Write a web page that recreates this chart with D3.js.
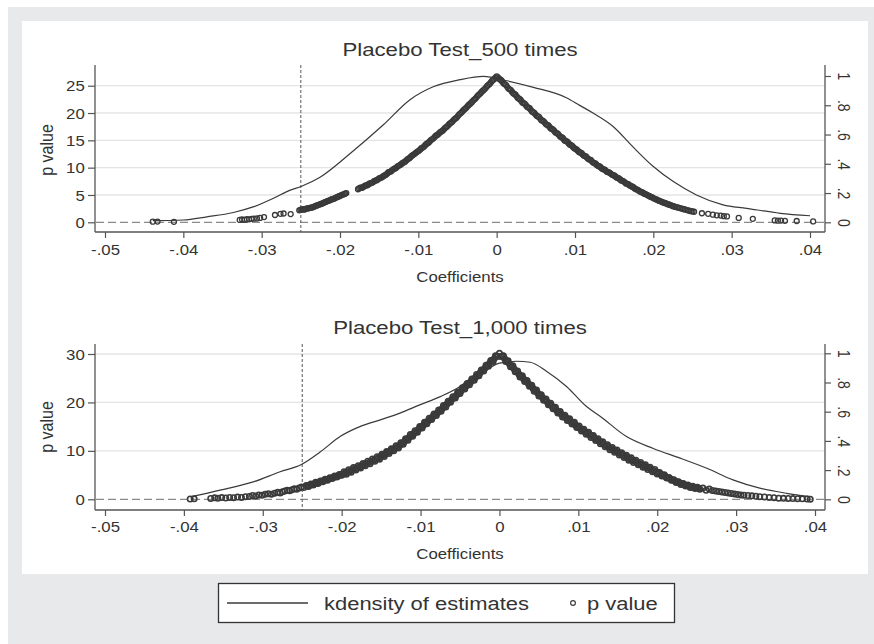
<!DOCTYPE html>
<html><head><meta charset="utf-8">
<script src="https://cdn.jsdelivr.net/npm/d3@7"></script>
<style>body{margin:0;background:#fff}svg{display:block}text{font-family:"Liberation Sans",Arial,sans-serif;fill:#333}</style>
</head><body><svg id="c" width="874" height="644"></svg>
<script>
// ---------------- data ----------------
const titles = ["Placebo Test_500 times", "Placebo Test_1,000 times"];
const xTicks = [-0.05,-0.04,-0.03,-0.02,-0.01,0,0.01,0.02,0.03,0.04];
const xTickLabels = ["-.05","-.04","-.03","-.02","-.01","0",".01",".02",".03",".04"];
const yTicksTop = [0,5,10,15,20,25];
const yTicksBottom = [0,10,20,30];
const pTicks = [0,0.2,0.4,0.6,0.8,1];
const pTickLabels = ["0",".2",".4",".6",".8","1"];
const trueEstimate = -0.025;
const legendLabels = ["kdensity of estimates", "p value"];

// kernel density of the estimates (coefficient, density)
const kdensTop = [[-0.0439,0.3],[-0.040,0.42],[-0.037,1.0],[-0.0336,1.8],[-0.031,2.86],[-0.0285,4.4],[-0.0265,5.8],[-0.0249,6.6],[-0.0226,8.2],[-0.0187,12.6],[-0.0145,17.8],[-0.0111,22.4],[-0.0081,24.8],[-0.0047,26.1],[-0.0017,26.7],[0.0013,25.9],[0.0047,24.7],[0.0089,22.8],[0.0106,21.4],[0.0123,20.0],[0.0149,17.5],[0.0174,13.8],[0.020,10.2],[0.0226,7.4],[0.0255,5.0],[0.0289,3.2],[0.0319,2.56],[0.0362,1.65],[0.040,1.2]];
const kdensBottom = [[-0.0392,0.5],[-0.0354,1.9],[-0.0312,3.6],[-0.0278,5.7],[-0.0251,7.2],[-0.0227,9.8],[-0.0202,12.95],[-0.0177,15.0],[-0.0151,16.4],[-0.0126,17.8],[-0.0101,19.5],[-0.0075,21.2],[-0.005,23.3],[-0.0033,25.4],[-0.0016,26.8],[0,28.1],[0.0022,28.5],[0.0039,28.3],[0.006,26.4],[0.0085,23.3],[0.011,19.2],[0.0128,17.1],[0.0161,12.95],[0.0195,10.5],[0.0229,8.5],[0.0263,6.4],[0.0296,4.0],[0.033,2.3],[0.0364,1.24],[0.0394,0.54]];

// placebo estimates and their p values (coefficient, p) - 500 times
const pvalTop = [[-0.0439,0.004],[-0.0433,0.005],[-0.0412,0.003],
[-0.0328,0.016],[-0.0325,0.019],[-0.0322,0.017],[-0.0319,0.021],[-0.0316,0.02],[-0.0313,0.024],[-0.0310,0.025],[-0.0306,0.026],[-0.0302,0.03],[-0.0297,0.036],
[-0.0283,0.05],[-0.0276,0.058],[-0.0272,0.06],[-0.0263,0.056],
[-0.0252,0.082],[-0.0249,0.088],[-0.0246,0.086],[-0.0243,0.094],[-0.0240,0.096],[-0.0237,0.1],[-0.0234,0.104],[-0.0231,0.112],[-0.0228,0.118],[-0.0225,0.124],[-0.0222,0.13],[-0.0219,0.138],[-0.0216,0.145],[-0.0213,0.15],[-0.0210,0.158],[-0.0207,0.163],[-0.0204,0.172],[-0.0201,0.178],[-0.0198,0.186],[-0.0195,0.192],[-0.0192,0.2],
[-0.0177,0.226],[-0.0174,0.236],[-0.0171,0.238],[-0.0168,0.25],[-0.0165,0.254],[-0.0162,0.266],[-0.0159,0.27],[-0.0156,0.283],[-0.0153,0.288],[-0.0150,0.3],[-0.0147,0.306],[-0.0144,0.318],[-0.0141,0.326],[-0.0138,0.342],[-0.0135,0.348],[-0.0132,0.362],[-0.0129,0.37],[-0.0126,0.384],[-0.0123,0.392],[-0.0120,0.406],[-0.0117,0.414],[-0.0114,0.43],[-0.0111,0.44],[-0.0108,0.456],[-0.0105,0.466],[-0.0102,0.48],[-0.0099,0.49],[-0.0096,0.506],[-0.0093,0.516],[-0.0090,0.534],[-0.0087,0.544],[-0.0084,0.562],[-0.0081,0.572],[-0.0078,0.59],[-0.0075,0.6],[-0.0072,0.616],[-0.0069,0.626],[-0.0066,0.644],[-0.0063,0.656],[-0.0060,0.674],[-0.0057,0.686],[-0.0054,0.704],[-0.0051,0.716],[-0.0048,0.736],[-0.0045,0.75],[-0.0042,0.768],[-0.0039,0.782],[-0.0036,0.8],[-0.0033,0.814],[-0.0030,0.832],[-0.0027,0.846],[-0.0024,0.866],[-0.0021,0.88],[-0.0018,0.898],[-0.0015,0.912],[-0.0012,0.932],[-0.0009,0.946],[-0.0006,0.966],[-0.0003,0.98],[0.0000,0.998],
[0.0003,0.982],[0.0006,0.97],[0.0009,0.948],[0.0012,0.938],[0.0015,0.914],[0.0018,0.904],[0.0021,0.882],[0.0024,0.872],[0.0027,0.85],[0.0030,0.84],[0.0033,0.818],[0.0036,0.81],[0.0039,0.788],[0.0042,0.78],[0.0045,0.758],[0.0048,0.748],[0.0051,0.728],[0.0054,0.72],[0.0057,0.698],[0.0060,0.69],[0.0063,0.67],[0.0066,0.662],[0.0069,0.642],[0.0072,0.634],[0.0075,0.614],[0.0078,0.606],[0.0081,0.586],[0.0084,0.578],[0.0087,0.558],[0.0090,0.552],[0.0093,0.532],[0.0096,0.524],[0.0099,0.506],[0.0102,0.498],[0.0105,0.48],[0.0108,0.474],[0.0111,0.456],[0.0114,0.45],[0.0117,0.432],[0.0120,0.426],[0.0123,0.408],[0.0126,0.402],[0.0129,0.386],[0.0132,0.38],[0.0135,0.364],[0.0138,0.36],[0.0141,0.344],[0.0144,0.34],[0.0147,0.326],[0.0150,0.32],[0.0153,0.306],[0.0156,0.3],[0.0159,0.286],[0.0162,0.28],[0.0165,0.266],[0.0168,0.26],[0.0171,0.248],[0.0174,0.242],[0.0177,0.228],[0.0180,0.222],[0.0183,0.21],[0.0186,0.204],[0.0189,0.194],[0.0192,0.188],[0.0195,0.178],[0.0198,0.172],[0.0201,0.162],[0.0204,0.156],[0.0207,0.148],[0.0210,0.142],[0.0213,0.134],[0.0216,0.13],[0.0219,0.122],[0.0222,0.118],[0.0225,0.11],[0.0228,0.106],[0.0232,0.1],[0.0236,0.094],[0.0240,0.088],[0.0244,0.082],[0.0248,0.076],[0.0252,0.072],[0.0262,0.062],[0.0270,0.058],[0.0276,0.052],[0.0281,0.048],[0.0286,0.046],[0.0290,0.042],[0.0294,0.04],[0.0309,0.03],[0.0327,0.024],[0.0355,0.013],[0.0359,0.011],[0.0363,0.012],[0.0368,0.01],[0.0383,0.009],[0.0404,0.006]];
const pvalTopMore = [[-0.02505,0.085],[-0.02475,0.09],[-0.02445,0.09],[-0.02415,0.095],[-0.02385,0.098],[-0.02355,0.102],[-0.02325,0.108],[-0.02295,0.115],[-0.02265,0.121],[-0.02235,0.127],[-0.02205,0.134],[-0.02175,0.141],[-0.02145,0.148],[-0.02115,0.154],[-0.02085,0.16],[-0.02055,0.167],[-0.02025,0.175],[-0.01995,0.182],[-0.01965,0.189],[-0.01935,0.196],
[-0.01755,0.231],[-0.01725,0.237],[-0.01695,0.244],[-0.01665,0.252],[-0.01635,0.26],[-0.01605,0.268],[-0.01575,0.276],[-0.01545,0.285],[-0.01515,0.294],[-0.01485,0.303],[-0.01455,0.312],[-0.01425,0.322],[-0.01395,0.334],[-0.01365,0.345],[-0.01335,0.355],[-0.01305,0.366],[-0.01275,0.377],[-0.01245,0.388],[-0.01215,0.399],[-0.01185,0.41],[-0.01155,0.422],[-0.01125,0.435],[-0.01095,0.448],[-0.01065,0.461],[-0.01035,0.473],[-0.01005,0.485],[-0.00975,0.498],[-0.00945,0.511],[-0.00915,0.525],[-0.00885,0.539],[-0.00855,0.553],[-0.00825,0.567],[-0.00795,0.581],[-0.00765,0.595],[-0.00735,0.608],[-0.00705,0.621],[-0.00675,0.635],[-0.00645,0.65],[-0.00615,0.665],[-0.00585,0.68],[-0.00555,0.695],[-0.00525,0.71],[-0.00495,0.726],[-0.00465,0.743],[-0.00435,0.759],[-0.00405,0.775],[-0.00375,0.791],[-0.00345,0.807],[-0.00315,0.823],[-0.00285,0.839],[-0.00255,0.856],[-0.00225,0.873],[-0.00195,0.889],[-0.00165,0.905],[-0.00135,0.922],[-0.00105,0.939],[-0.00075,0.956],[-0.00045,0.973],[-0.00015,0.989],
[0.00015,0.99],[0.00045,0.976],[0.00075,0.959],[0.00105,0.943],[0.00135,0.926],[0.00165,0.909],[0.00195,0.893],[0.00225,0.877],[0.00255,0.861],[0.00285,0.845],[0.00315,0.829],[0.00345,0.814],[0.00375,0.799],[0.00405,0.784],[0.00435,0.769],[0.00465,0.753],[0.00495,0.738],[0.00525,0.724],[0.00555,0.709],[0.00585,0.694],[0.00615,0.68],[0.00645,0.666],[0.00675,0.652],[0.00705,0.638],[0.00735,0.624],[0.00765,0.61],[0.00795,0.596],[0.00825,0.582],[0.00855,0.568],[0.00885,0.555],[0.00915,0.542],[0.00945,0.528],[0.00975,0.515],[0.01005,0.502],[0.01035,0.489],[0.01065,0.477],[0.01095,0.465],[0.01125,0.453],[0.01155,0.441],[0.01185,0.429],[0.01215,0.417],[0.01245,0.405],[0.01275,0.394],[0.01305,0.383],[0.01335,0.372],[0.01365,0.362],[0.01395,0.352],[0.01425,0.342],[0.01455,0.333],[0.01485,0.323],[0.01515,0.313],[0.01545,0.303],[0.01575,0.293],[0.01605,0.283],[0.01635,0.273],[0.01665,0.263],[0.01695,0.254],[0.01725,0.245],[0.01755,0.235],[0.01785,0.225],[0.01815,0.216],[0.01845,0.207],[0.01875,0.199],[0.01905,0.191],[0.01935,0.183],[0.01965,0.175],[0.01995,0.167],[0.02025,0.159],[0.02055,0.152],[0.02085,0.145],[0.02115,0.138],[0.02145,0.132],[0.02175,0.126],[0.02205,0.12],[0.02235,0.114],[0.02265,0.108],[0.0230,0.103],[0.0234,0.097],[0.0238,0.091],[0.0242,0.085],[0.0246,0.079],[0.0250,0.074]];

// placebo estimates and their p values (coefficient, p) - 1,000 times
const pvalBottom = [[-0.0392,0.002],[-0.0387,0.003],[-0.0366,0.006],[-0.0361,0.01],[-0.0357,0.007],[-0.0352,0.012],[-0.0347,0.009],[-0.0342,0.013],[-0.0337,0.011],[-0.0332,0.015],[-0.0327,0.013],[-0.0322,0.018],[-0.0317,0.02],[-0.0313,0.026],[-0.0309,0.023],[-0.0305,0.03],[-0.0301,0.027],[-0.0297,0.034],[-0.0293,0.038],[-0.0289,0.035],[-0.0285,0.042],[-0.0281,0.048],[-0.0278,0.044],[-0.0275,0.052],[-0.0272,0.056],[-0.0269,0.062],[-0.0266,0.058],[-0.0263,0.066],[-0.0260,0.072],[-0.0257,0.068],[-0.0254,0.078],[-0.0251,0.084],[-0.0248,0.08],
[-0.0245,0.095],[-0.0242,0.088],[-0.0239,0.105],[-0.0236,0.098],[-0.0233,0.116],[-0.0230,0.109],[-0.0227,0.126],[-0.0224,0.12],[-0.0221,0.137],[-0.0218,0.131],[-0.0215,0.148],[-0.0212,0.142],[-0.0209,0.159],[-0.0206,0.153],[-0.0203,0.17],[-0.0200,0.165],[-0.0197,0.189],[-0.0194,0.172],[-0.0191,0.203],[-0.0188,0.186],[-0.0185,0.217],[-0.0182,0.2],[-0.0179,0.23],[-0.0176,0.214],[-0.0173,0.245],[-0.0170,0.229],[-0.0167,0.261],[-0.0164,0.244],[-0.0161,0.276],[-0.0158,0.26],[-0.0155,0.292],[-0.0152,0.275],[-0.0149,0.308],[-0.0146,0.294],[-0.0143,0.327],[-0.0140,0.313],[-0.0137,0.346],[-0.0134,0.332],[-0.0131,0.366],[-0.0128,0.351],[-0.0125,0.387],[-0.0122,0.377],[-0.0119,0.415],[-0.0116,0.405],[-0.0113,0.443],[-0.0110,0.432],[-0.0107,0.47],[-0.0104,0.46],[-0.0101,0.498],[-0.0098,0.488],[-0.0095,0.527],[-0.0092,0.517],[-0.0089,0.555],[-0.0086,0.546],[-0.0083,0.584],[-0.0080,0.574],[-0.0077,0.612],[-0.0074,0.603],[-0.0071,0.642],[-0.0068,0.633],[-0.0065,0.672],[-0.0062,0.664],[-0.0059,0.703],[-0.0056,0.694],[-0.0053,0.733],[-0.0050,0.725],[-0.0047,0.764],[-0.0044,0.755],[-0.0041,0.794],[-0.0038,0.785],[-0.0035,0.824],[-0.0032,0.815],[-0.0029,0.855],[-0.0026,0.846],[-0.0023,0.886],[-0.0020,0.878],[-0.0017,0.918],[-0.0014,0.911],[-0.0011,0.951],[-0.0008,0.944],[-0.0005,0.984],[-0.0002,0.98],[0.0000,1.0],
[0.0002,0.978],[0.0005,0.984],[0.0008,0.943],[0.0011,0.949],[0.0014,0.908],[0.0017,0.914],[0.0020,0.873],[0.0023,0.879],[0.0026,0.838],[0.0029,0.846],[0.0032,0.806],[0.0035,0.814],[0.0038,0.774],[0.0041,0.782],[0.0044,0.74],[0.0047,0.748],[0.0050,0.708],[0.0053,0.716],[0.0056,0.678],[0.0059,0.687],[0.0062,0.648],[0.0065,0.658],[0.0068,0.62],[0.0071,0.63],[0.0074,0.591],[0.0077,0.601],[0.0080,0.564],[0.0083,0.576],[0.0086,0.539],[0.0089,0.551],[0.0092,0.515],[0.0095,0.527],[0.0098,0.491],[0.0101,0.502],[0.0104,0.467],[0.0107,0.48],[0.0110,0.446],[0.0113,0.459],[0.0116,0.424],[0.0119,0.437],[0.0122,0.402],[0.0125,0.415],[0.0128,0.38],[0.0131,0.394],[0.0134,0.36],[0.0137,0.374],[0.0140,0.34],[0.0143,0.355],[0.0146,0.322],[0.0149,0.338],[0.0152,0.304],[0.0155,0.319],[0.0158,0.286],[0.0161,0.301],[0.0164,0.268],[0.0167,0.284],[0.0170,0.252],[0.0173,0.268],[0.0176,0.236],[0.0179,0.252],[0.0182,0.22],[0.0185,0.236],[0.0188,0.204],[0.0191,0.22],[0.0194,0.188],[0.0197,0.204],[0.0200,0.174],[0.0203,0.184],[0.0206,0.16],[0.0209,0.168],[0.0212,0.146],[0.0215,0.15],[0.0218,0.13],[0.0221,0.134],[0.0224,0.115],[0.0227,0.12],[0.0230,0.102],[0.0233,0.108],[0.0236,0.091],[0.0239,0.098],[0.0242,0.081],[0.0245,0.089],[0.0248,0.074],[0.0251,0.083],[0.0254,0.068],[0.0258,0.077],[0.0262,0.062],[0.0266,0.07],[0.0270,0.061],[0.0274,0.057],[0.0278,0.054],[0.0282,0.05],[0.0286,0.047],[0.0290,0.043],[0.0294,0.04],[0.0298,0.037],[0.0302,0.033],[0.0306,0.03],[0.0310,0.028],[0.0315,0.026],[0.0320,0.024],[0.0325,0.021],[0.0330,0.018],[0.0336,0.016],[0.0342,0.013],[0.0348,0.011],[0.0354,0.008],[0.0360,0.007],[0.0366,0.006],[0.0372,0.005],[0.0378,0.004],[0.0384,0.003],[0.0390,0.002],[0.0394,0.001]];
const pvalBottomMore = [[-0.02435,0.091],[-0.02405,0.096],[-0.02375,0.101],[-0.02345,0.107],[-0.02315,0.112],[-0.02285,0.117],[-0.02255,0.123],[-0.02225,0.128],[-0.02195,0.134],[-0.02165,0.139],[-0.02135,0.145],[-0.02105,0.15],[-0.02075,0.156],[-0.02045,0.161],[-0.02015,0.167],[-0.01985,0.174],[-0.01955,0.18],[-0.01925,0.187],[-0.01895,0.194],[-0.01865,0.201],[-0.01835,0.208],[-0.01805,0.215],[-0.01775,0.222],[-0.01745,0.229],[-0.01715,0.237],[-0.01685,0.245],[-0.01655,0.252],[-0.01625,0.26],[-0.01595,0.268],[-0.01565,0.276],[-0.01535,0.283],[-0.01505,0.291],[-0.01475,0.301],[-0.01445,0.31],[-0.01415,0.32],[-0.01385,0.329],[-0.01355,0.339],[-0.01325,0.349],[-0.01295,0.358],[-0.01265,0.369],[-0.01235,0.382],[-0.01205,0.396],[-0.01175,0.41],[-0.01145,0.424],[-0.01115,0.437],[-0.01085,0.451],[-0.01055,0.465],[-0.01025,0.479],[-0.00995,0.493],[-0.00965,0.507],[-0.00935,0.522],[-0.00905,0.536],[-0.00875,0.55],[-0.00845,0.565],[-0.00815,0.579],[-0.00785,0.593],[-0.00755,0.607],[-0.00725,0.622],[-0.00695,0.637],[-0.00665,0.652],[-0.00635,0.668],[-0.00605,0.683],[-0.00575,0.698],[-0.00545,0.713],[-0.00515,0.729],[-0.00485,0.744],[-0.00455,0.759],[-0.00425,0.774],[-0.00395,0.789],[-0.00365,0.804],[-0.00335,0.819],[-0.00305,0.835],[-0.00275,0.85],[-0.00245,0.866],[-0.00215,0.882],[-0.00185,0.898],[-0.00155,0.914],[-0.00125,0.931],[-0.00095,0.947],[-0.00065,0.964],[-0.00035,0.98],
[0.00035,0.981],[0.00065,0.964],[0.00095,0.946],[0.00125,0.929],[0.00155,0.911],[0.00185,0.894],[0.00215,0.876],[0.00245,0.859],[0.00275,0.842],[0.00305,0.826],[0.00335,0.81],[0.00365,0.794],[0.00395,0.778],[0.00425,0.761],[0.00455,0.744],[0.00485,0.728],[0.00515,0.712],[0.00545,0.697],[0.00575,0.683],[0.00605,0.668],[0.00635,0.653],[0.00665,0.639],[0.00695,0.625],[0.00725,0.61],[0.00755,0.596],[0.00785,0.583],[0.00815,0.57],[0.00845,0.558],[0.00875,0.545],[0.00905,0.533],[0.00935,0.521],[0.00965,0.509],[0.00995,0.497],[0.01025,0.485],[0.01055,0.474],[0.01085,0.463],[0.01115,0.453],[0.01145,0.442],[0.01175,0.431],[0.01205,0.42],[0.01235,0.409],[0.01265,0.398],[0.01295,0.387],[0.01325,0.377],[0.01355,0.367],[0.01385,0.357],[0.01415,0.348],[0.01445,0.339],[0.01475,0.33],[0.01505,0.321],[0.01535,0.312],[0.01565,0.303],[0.01595,0.294],[0.01625,0.285],[0.01655,0.276],[0.01685,0.268],[0.01715,0.26],[0.01745,0.252],[0.01775,0.244],[0.01805,0.236],[0.01835,0.228],[0.01865,0.22],[0.01895,0.212],[0.01925,0.204],[0.01955,0.196],[0.01985,0.188],[0.02015,0.18],[0.02045,0.172],[0.02075,0.164],[0.02105,0.156],[0.02135,0.148],[0.02165,0.14],[0.02195,0.132],[0.02225,0.125],[0.02255,0.118],[0.02285,0.111],[0.02315,0.105],[0.02345,0.1],[0.02375,0.095],[0.02405,0.09],[0.02435,0.085],[0.02465,0.082],[0.02495,0.079],[0.02525,0.076]];

// ---------------- drawing ----------------
const SX = 1.2; // horizontal stretch of the reference text
const svg = d3.select("#c");
svg.append("rect").attr("x",8).attr("y",7).attr("width",866).attr("height",637).attr("fill","#e8e9eb");
svg.append("rect").attr("x",22).attr("y",21).attr("width",846).attr("height",553).attr("fill","#fff");

function label(g, x, y, s, size, anchor, rot){
  return g.append("text")
    .attr("transform", `translate(${x},${y}) scale(${SX},1)` + (rot ? ` rotate(${rot})` : ""))
    .attr("text-anchor", anchor).attr("font-size", size).text(s);
}

const panels = [
  {title:titles[0], kd:kdensTop, pv:pvalTop.concat(pvalTopMore), yTicks:yTicksTop, yMax:25, r:2.5, sw:1.3,
   L:95, R:825, T:65, B:232, x0:105, x1:810, y0:222.3, yTop:85.7, p1:76,
   titleY:56, tickY:255, xTitleY:281.7, yTitleY:150},
  {title:titles[1], kd:kdensBottom, pv:pvalBottom.concat(pvalBottomMore), yTicks:yTicksBottom, yMax:30, r:2.7, sw:1.6,
   L:95, R:825, T:344, B:510, x0:105, x1:815, y0:499.3, yTop:354, p1:353.3,
   titleY:333.5, tickY:532, xTitleY:559, yTitleY:427}
];

panels.forEach(P => {
  const g = svg.append("g");
  const x = d3.scaleLinear().domain([-0.05,0.04]).range([P.x0,P.x1]);
  const y = d3.scaleLinear().domain([0,P.yMax]).range([P.y0,P.yTop]);
  const yp = d3.scaleLinear().domain([0,1]).range([P.y0,P.p1]);

  // gridlines
  g.selectAll(".grid").data(P.yTicks.filter(v=>v>0)).join("line")
    .attr("x1",P.L).attr("x2",P.R).attr("y1",d=>y(d)).attr("y2",d=>y(d))
    .attr("stroke","#e4e4e4").attr("stroke-width",1.3);
  // zero dashed line
  g.append("line").attr("x1",P.L+1).attr("x2",P.R).attr("y1",y(0)).attr("y2",y(0))
    .attr("stroke","#8a8a8a").attr("stroke-width",1.2).attr("stroke-dasharray","8,4");
  // true estimate vertical dashed line
  g.append("line").attr("x1",x(trueEstimate)).attr("x2",x(trueEstimate)).attr("y1",P.T).attr("y2",P.B)
    .attr("stroke","#555").attr("stroke-width",1).attr("stroke-dasharray","3,2");

  // kdensity line
  g.append("path").datum(P.kd)
    .attr("d", d3.line().x(d=>x(d[0])).y(d=>y(d[1])).curve(d3.curveMonotoneX))
    .attr("fill","none").attr("stroke","#3a3a3a").attr("stroke-width",1.2);

  // p values
  g.selectAll(".pt").data(P.pv).join("circle")
    .attr("cx",d=>x(d[0])).attr("cy",d=>yp(d[1])).attr("r",P.r)
    .attr("fill","none").attr("stroke","#3a3a3a").attr("stroke-width",P.sw);

  // axes lines
  const ax = g.append("g").attr("stroke","#555").attr("stroke-width",1.3);
  ax.append("line").attr("x1",P.L).attr("x2",P.L).attr("y1",P.T).attr("y2",P.B);
  ax.append("line").attr("x1",P.R).attr("x2",P.R).attr("y1",P.T).attr("y2",P.B);
  ax.append("line").attr("x1",P.L).attr("x2",P.R).attr("y1",P.B).attr("y2",P.B);

  // bottom axis
  const xa = g.append("g").attr("transform",`translate(0,${P.B})`)
    .call(d3.axisBottom(x).tickValues(xTicks).tickFormat((d,i)=>xTickLabels[i]).tickSize(6).tickSizeOuter(0));
  xa.select(".domain").remove();
  xa.selectAll(".tick line").attr("stroke","#555").attr("stroke-width",1.2);
  xa.selectAll(".tick text").attr("y",0).attr("dy",0)
    .attr("transform",`translate(0,${P.tickY-P.B}) scale(${SX},1)`)
    .attr("font-size",14).attr("fill","#333").attr("font-family",null);

  // left axis
  const ya = g.append("g").attr("transform",`translate(${P.L},0)`)
    .call(d3.axisLeft(y).tickValues(P.yTicks).tickFormat(d3.format("d")).tickSize(7).tickSizeOuter(0));
  ya.select(".domain").remove();
  ya.selectAll(".tick line").attr("stroke","#555").attr("stroke-width",1.2);
  ya.selectAll(".tick text").attr("x",-8.5).attr("dy","0.36em")
    .attr("transform",`scale(${SX},1)`).attr("font-size",14).attr("fill","#333").attr("font-family",null);

  // right axis (p value)
  const ra = g.append("g").attr("transform",`translate(${P.R},0)`)
    .call(d3.axisRight(yp).tickValues(pTicks).tickFormat((d,i)=>pTickLabels[i]).tickSize(6).tickSizeOuter(0));
  ra.select(".domain").remove();
  ra.selectAll(".tick line").attr("stroke","#555").attr("stroke-width",1.2);
  ra.selectAll(".tick text").attr("x",0).attr("dy",0).attr("text-anchor","middle")
    .attr("transform",`translate(12.5,0) scale(${SX},1) rotate(90)`)
    .attr("font-size",14).attr("fill","#333").attr("font-family",null);

  // titles
  label(g, 460, P.titleY, P.title, 18.5, "middle");
  label(g, 460, P.xTitleY, "Coefficients", 14, "middle");
  label(g, 53, P.yTitleY, "p value", 16, "middle", -90);
});

// legend
const lg = svg.append("g");
lg.append("rect").attr("x",218.5).attr("y",583.5).attr("width",456).attr("height",39)
  .attr("fill","#fff").attr("stroke","#333").attr("stroke-width",1.3);
lg.append("line").attr("x1",227).attr("x2",308).attr("y1",603).attr("y2",603)
  .attr("stroke","#3a3a3a").attr("stroke-width",1.3);
label(lg, 324, 610, legendLabels[0], 18.3, "start");
lg.append("circle").attr("cx",573).attr("cy",603).attr("r",2.4)
  .attr("fill","none").attr("stroke","#3c3c3c").attr("stroke-width",1.15);
label(lg, 587, 610, legendLabels[1], 18.3, "start");
</script></body></html>
